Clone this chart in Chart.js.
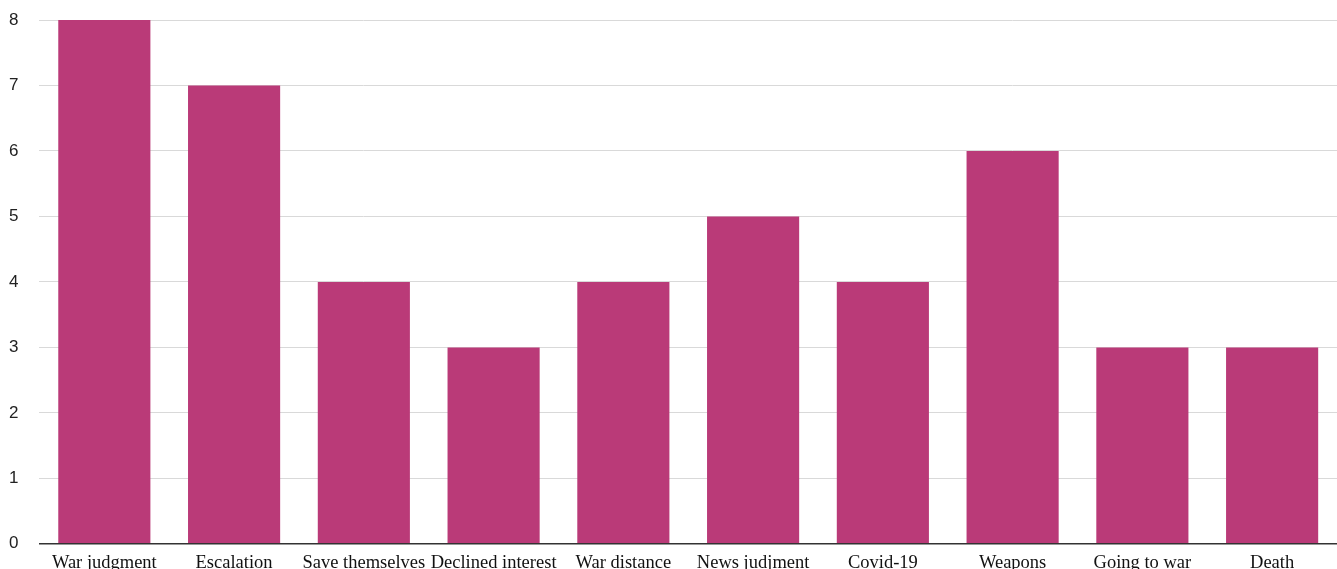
<!DOCTYPE html>
<html>
<head>
<meta charset="utf-8">
<script src="https://cdn.jsdelivr.net/npm/chart.js@4/dist/chart.umd.min.js"></script>
<style>
html,body{margin:0;padding:0;background:#fff;}
#wrap{width:1337px;height:569px;position:relative;}
</style>
</head>
<body>
<div id="wrap"><canvas id="c"></canvas></div>
<script>
const categories = ["War judgment","Escalation","Save themselves","Declined interest","War distance","News judjment","Covid-19","Weapons","Going to war","Death"];
const values = [8,7,4,3,4,5,4,6,3,3];
const yTicks = [0,1,2,3,4,5,6,7,8];

new Chart(document.getElementById('c'), {
  type: 'bar',
  data: {
    labels: categories,
    datasets: [{
      data: values,
      backgroundColor: 'rgb(186,58,120)',
      borderWidth: 0,
      barPercentage: 0.71,
      categoryPercentage: 1.0
    }]
  },
  options: {
    responsive: true,
    maintainAspectRatio: false,
    animation: false,
    layout: { padding: { left: -12, right: -2, top: 20, bottom: -5 } },
    plugins: { legend: { display: false }, tooltip: { enabled: false } },
    scales: {
      x: {
        grid: { display: false },
        border: { display: false },
        afterFit: (scale) => { scale.paddingLeft = 0; scale.paddingRight = 0; },
        ticks: {
          color: '#111',
          font: { family: '"Liberation Serif", "Times New Roman", serif', size: 18.5 },
          padding: 0,
          maxRotation: 0,
          autoSkip: false
        }
      },
      y: {
        min: 0,
        max: 8,
        afterBuildTicks: (axis) => { axis.ticks = yTicks.map(v => ({ value: v })); },
        afterFit: (scale) => { scale.paddingTop = 0; scale.paddingBottom = 0; },
        grid: {
          drawTicks: false,
          color: (ctx) => ctx.tick && ctx.tick.value === 0 ? '#333' : '#d9d9d9',
          lineWidth: (ctx) => ctx.tick && ctx.tick.value === 0 ? 1.5 : 1
        },
        border: { display: false },
        ticks: {
          color: '#222',
          font: { family: '"Liberation Sans", Arial, sans-serif', size: 17 },
          padding: 21
        }
      }
    }
  }
});
</script>
</body>
</html>
